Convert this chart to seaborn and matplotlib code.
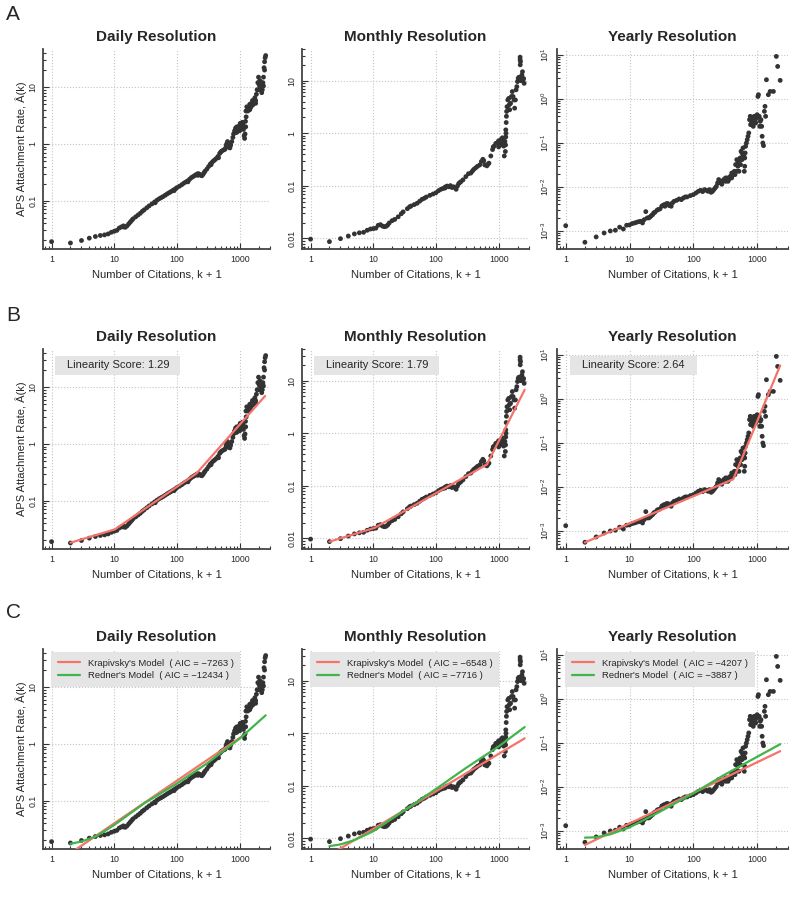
import matplotlib
matplotlib.use("Agg")
import matplotlib.pyplot as plt
import matplotlib.ticker as mticker
from matplotlib.patches import Rectangle
import pandas as pd
import seaborn as sns

# ---- data ---------------------------------------------------------------------
daily_k = [1, 2, 3, 4, 5, 6, 7, 8, 9, 10, 11, 12, 13, 14, 15, 16, 17, 18, 19, 20,
           22, 24, 26, 28, 30, 33, 36, 40, 44, 48, 52, 56, 60, 65, 70, 75, 80, 85, 90, 95,
           100, 110, 120, 130, 140, 150, 160, 170, 180, 190, 200, 210, 220, 230, 240, 250,
           260, 270, 280, 300, 320, 340, 360, 380, 400, 420, 450, 480, 500, 520, 550, 580,
           600, 620, 640, 660, 680, 700, 720, 750, 780, 800, 830, 860, 900, 930, 960, 1000,
           1030, 1060, 1100, 1130, 1150, 1180, 1200, 1220, 1240, 1260, 1300, 1350, 1400,
           1450, 1500, 1550, 1600, 1650, 1700, 1750, 1800, 1850, 1900, 1950, 2000, 2050,
           2100, 2150, 2200, 2250, 2300, 2350, 2400, 2450, 2500, 2550, 2600,
           900, 1000, 1100, 1450, 1600, 1800, 2000, 2100, 2200, 2400, 2500,
           14, 45, 90, 150, 215, 350, 460, 610, 870, 1020, 1250, 1270]
daily_rate = [0.019, 0.018, 0.0199, 0.0219, 0.0234, 0.0244, 0.025, 0.026, 0.0278, 0.029,
              0.030, 0.033, 0.0345, 0.0345, 0.034, 0.036, 0.039, 0.042, 0.045, 0.048,
              0.052, 0.056, 0.060, 0.065, 0.069, 0.075, 0.081, 0.088, 0.095, 0.102, 0.108,
              0.113, 0.118, 0.125, 0.132, 0.138, 0.144, 0.150, 0.156, 0.162,
              0.170, 0.180, 0.192, 0.205, 0.215, 0.225, 0.24, 0.255, 0.265, 0.275, 0.285,
              0.295, 0.30, 0.29, 0.28, 0.275, 0.29, 0.31, 0.33, 0.36, 0.40, 0.44, 0.47,
              0.50, 0.52, 0.55, 0.60, 0.68, 0.72, 0.75, 0.78, 0.80, 0.85, 1.0, 1.1, 1.0,
              0.88, 0.85, 0.95, 1.1, 1.3, 1.5, 1.7, 1.9, 2.0, 1.8, 2.0, 2.1, 1.9, 2.2, 2.0,
              2.2, 1.8, 1.4, 1.25, 1.5, 2.5, 3.8, 4.5, 3.8, 4.2, 5.0, 4.4, 5.2, 5.8, 5.0,
              6.0, 6.5, 5.8, 7.5, 9.0, 12, 15, 11, 13, 9, 10, 8, 9, 12, 15, 22, 28, 33, 36,
              1.6, 1.7, 2.4, 4.0, 4.8, 5.2, 9.0, 10.5, 12.0, 10.5, 20,
              0.036, 0.092, 0.150, 0.215, 0.28, 0.43, 0.57, 0.93, 1.6, 2.3, 2.0, 3.0]

monthly_k = [1, 2, 3, 4, 5, 6, 7, 8, 9, 10, 11, 12, 13, 14, 15, 16, 17, 18, 20, 22, 25,
             28, 30, 35, 40, 45, 50, 55, 60, 70, 80, 90, 100, 110, 120, 130, 140, 150,
             160, 170, 180, 190, 200, 210, 220, 230, 250, 270, 300, 330, 360, 400, 430,
             460, 500, 530, 560, 600, 650, 700, 750, 800, 850, 900, 950, 1000, 1050,
             1100, 1150, 1200, 1230, 1260, 1300, 1330, 1360, 1400, 1450, 1500, 1550,
             1600, 1650, 1700, 1750, 1800, 1850, 1900, 1950, 2000, 2050, 2100, 2150,
             2200, 2230, 2260, 2300, 2350, 2400, 2450, 2500, 2550,
             1280, 1290, 1300, 1310, 1320, 1340, 1000, 1100, 2200, 2210,
             38, 65, 140, 240, 380, 580, 680, 820, 1180, 1480]
monthly_rate = [0.0097, 0.0087, 0.0099, 0.0111, 0.0122, 0.0128, 0.0131, 0.0143, 0.0151,
                0.0154, 0.0157, 0.0178, 0.0183, 0.0172, 0.0167, 0.017, 0.018, 0.0197,
                0.0218, 0.023, 0.0258, 0.0295, 0.032, 0.0368, 0.0413, 0.044, 0.0466,
                0.051, 0.0555, 0.0613, 0.066, 0.070, 0.074, 0.081, 0.086, 0.089, 0.091,
                0.099, 0.096, 0.101, 0.093, 0.096, 0.093, 0.086, 0.099, 0.11, 0.12, 0.13,
                0.15, 0.17, 0.175, 0.205, 0.22, 0.235, 0.25, 0.29, 0.32, 0.25, 0.24, 0.27,
                0.37, 0.49, 0.57, 0.64, 0.66, 0.72, 0.6, 0.77, 0.82, 0.57, 0.37, 0.7,
                1.16, 2.1, 3.2, 4.3, 4.6, 2.8, 3.7, 5.0, 6.2, 5.0, 4.3, 3.0, 4.3, 6.7,
                7.7, 9.6, 11, 11.6, 10.5, 28, 23, 10, 11.6, 12.8, 14.8, 10.3, 11, 8.9,
                0.45, 0.6, 0.85, 1.0, 1.6, 2.6, 0.55, 0.62, 25, 20,
                0.040, 0.058, 0.095, 0.115, 0.19, 0.30, 0.26, 0.55, 0.70, 3.5]

yearly_k = [1, 2, 3, 4, 5, 6, 7, 8, 9, 10, 11, 12, 13, 14, 15, 16, 17, 18, 19, 20, 21,
            22, 23, 24, 25, 27, 28, 30, 32, 33, 35, 36, 38, 40, 42, 45, 47, 50, 55, 60,
            65, 70, 75, 80, 90, 100, 110, 120, 130, 140, 150, 160, 170, 180, 190, 200,
            210, 220, 230, 240, 250, 260, 270, 280, 300, 320, 340, 360, 380, 400, 420,
            440, 460, 480, 500, 520, 540, 560, 580, 600, 620, 630, 640, 650, 660, 680,
            700, 720, 740, 760, 780, 800, 820, 850, 880, 900, 930, 960, 1000, 1030,
            1050, 1080, 1100, 1150, 1180, 1200, 1230, 1260, 1300, 1330, 1360, 1400,
            1500, 1600, 1800, 2000, 2100, 2300,
            250, 280, 320, 350, 400, 450, 480, 500, 520, 550, 580, 600, 640,
            790, 830, 870, 950, 990, 1120]
yearly_rate = [0.00132, 0.000555, 0.000733, 0.00090, 0.00100, 0.00104, 0.00122, 0.00111,
               0.00135, 0.00137, 0.00147, 0.00152, 0.00158, 0.00163, 0.00166, 0.00152,
               0.00181, 0.00275, 0.00198, 0.00198, 0.00208, 0.00223, 0.00235, 0.00257,
               0.00266, 0.00295, 0.00306, 0.00316, 0.00364, 0.00377, 0.00397, 0.00364,
               0.00418, 0.00418, 0.00377, 0.00364, 0.00433, 0.00472, 0.00498, 0.00533,
               0.00515, 0.00562, 0.00593, 0.00593, 0.00635, 0.00668, 0.00729, 0.00796,
               0.00839, 0.00782, 0.00869, 0.00839, 0.00796, 0.00869, 0.00755, 0.00796,
               0.00869, 0.00948, 0.0103, 0.0123, 0.0127, 0.0134, 0.0123, 0.0134, 0.0147,
               0.0134, 0.0160, 0.0147, 0.0174, 0.0207, 0.0190, 0.0226, 0.0321, 0.0416,
               0.0381, 0.0349, 0.0454, 0.0643, 0.0589, 0.0765, 0.0495, 0.0226, 0.0294,
               0.0589, 0.0834, 0.0993, 0.118, 0.141, 0.168, 0.336, 0.400, 0.347, 0.282,
               0.259, 0.336, 0.400, 0.308, 0.366, 0.436, 1.13, 1.24, 0.400, 0.237, 0.336,
               0.237, 0.141, 0.0993, 0.0865, 0.519, 0.673, 0.400, 2.71, 1.24, 1.47, 1.47,
               9.17, 5.43, 2.62,
               0.0147, 0.0115, 0.0160, 0.0134, 0.0160, 0.0190, 0.0226, 0.0294, 0.0226,
               0.0321, 0.0416, 0.0495, 0.0454,
               0.259, 0.308, 0.237, 0.282, 0.366, 0.308]

# piecewise power-law fits (row B)
daily_pw_k, daily_pw_rate = [2, 10.2, 205, 2550], [0.0182, 0.0312, 0.303, 7.0]
monthly_pw_k, monthly_pw_rate = [2, 10.5, 650, 2600], [0.00867, 0.0159, 0.255, 6.7]
yearly_pw_k, yearly_pw_rate = [2, 424, 2297], [0.00055, 0.015, 5.7]
linearity_scores = [1.29, 1.79, 2.64]

# model fits (row C)
daily_krap_k, daily_krap_rate = [2, 1100], [0.0119, 1.37]
monthly_krap_k, monthly_krap_rate = [2, 2600], [0.00485, 0.80]
yearly_krap_k, yearly_krap_rate = [2, 2300], [0.000482, 0.0647]
daily_redner_k = [2, 3, 5, 7, 10, 30, 100, 300, 1000, 2600]
daily_redner_rate = [0.0174, 0.0191, 0.0233, 0.029, 0.0374, 0.0898, 0.201, 0.452, 1.24, 3.19]
monthly_redner_k = [2, 3, 5, 10, 30, 100, 300, 1000, 2600]
monthly_redner_rate = [0.00715, 0.0077, 0.0093, 0.0137, 0.0329, 0.0872, 0.218, 0.561, 1.31]
yearly_redner_k = [2, 3, 5, 10, 30, 100, 300, 1000, 2300]
yearly_redner_rate = [0.000706, 0.00072, 0.00084, 0.00121, 0.00274, 0.00713, 0.0185, 0.0482, 0.0933]
krap_aic = [-7263, -6548, -4207]
redner_aic = [-12434, -7716, -3887]

titles = ["Daily Resolution", "Monthly Resolution", "Yearly Resolution"]

points = [(daily_k, daily_rate), (monthly_k, monthly_rate), (yearly_k, yearly_rate)]
pw_fits = [(daily_pw_k, daily_pw_rate), (monthly_pw_k, monthly_pw_rate), (yearly_pw_k, yearly_pw_rate)]
krap_fits = [(daily_krap_k, daily_krap_rate), (monthly_krap_k, monthly_krap_rate),
             (yearly_krap_k, yearly_krap_rate)]
redner_fits = [(daily_redner_k, daily_redner_rate), (monthly_redner_k, monthly_redner_rate),
               (yearly_redner_k, yearly_redner_rate)]
ylims = [(0.0141, 47), (0.0063, 40), (0.00039, 13.5)]
yticks = [[0.1, 1, 10], [0.01, 0.1, 1, 10], [1e-3, 1e-2, 1e-1, 1, 10]]

RED = "#f4736a"
GREEN = "#3fb54a"
DOTS = "#333333"

# ---- style --------------------------------------------------------------------
sns.set_style("white")
plt.rcParams["font.family"] = ["Liberation Sans", "DejaVu Sans"]
plt.rcParams["mathtext.fontset"] = "custom"
plt.rcParams["mathtext.rm"] = "Liberation Sans"
plt.rcParams["axes.unicode_minus"] = True

fig = plt.figure(figsize=(7.95, 8.99), dpi=100)
H = 899.0
W = 795.0
col_left = [43, 302, 557]
col_width = [227, 227, 231]
row_top = [49, 349, 649]
ax_h = 200


def style_axis(ax, c):
    ax.set_xscale("log")
    ax.set_yscale("log")
    ax.set_xlim(0.73, 3050)
    ax.set_ylim(*ylims[c])
    ax.set_xticks([1, 10, 100, 1000])
    ax.xaxis.set_major_formatter(mticker.FixedFormatter(["1", "10", "100", "1000"]))
    ax.set_yticks(yticks[c])
    if c == 2:
        ax.yaxis.set_major_formatter(mticker.LogFormatterMathtext())
    else:
        ax.yaxis.set_major_formatter(mticker.FuncFormatter(lambda v, p: "%g" % v))
    ax.xaxis.set_minor_locator(mticker.LogLocator(base=10, subs=range(2, 10), numticks=20))
    ax.yaxis.set_minor_locator(mticker.LogLocator(base=10, subs=range(2, 10), numticks=20))
    ax.xaxis.set_minor_formatter(mticker.NullFormatter())
    ax.yaxis.set_minor_formatter(mticker.NullFormatter())
    ax.tick_params(which="both", direction="in", color="#333333", width=0.8,
                   labelsize=6.3, pad=4, bottom=True, left=True, top=False, right=False)
    ax.tick_params(which="major", length=4.5)
    ax.tick_params(which="minor", length=2.5)
    ax.tick_params(axis="y", labelrotation=90)
    for lab in ax.get_yticklabels():
        lab.set_verticalalignment("center")
    ax.grid(True, which="major", linestyle=":", color="#c4c4c4", linewidth=0.8)
    sns.despine(ax=ax)
    for s in ["left", "bottom"]:
        ax.spines[s].set_color("#444444")
        ax.spines[s].set_linewidth(1.3)
    ax.set_title(titles[c], fontsize=11, fontweight="bold", pad=6)
    ax.set_xlabel("Number of Citations, k + 1", fontsize=8, labelpad=4)
    if c == 0:
        ax.set_ylabel("APS Attachment Rate, Â(k)", fontsize=8, labelpad=1)
    else:
        ax.set_ylabel("")


for r in range(3):
    for c in range(3):
        ax = fig.add_axes([col_left[c] / W, 1 - (row_top[r] + ax_h) / H,
                           col_width[c] / W, ax_h / H])
        df = pd.DataFrame({"k": points[c][0], "rate": points[c][1]})
        sns.scatterplot(data=df, x="k", y="rate", ax=ax, s=12, color=DOTS,
                        edgecolor="none", linewidth=0, zorder=2)
        if r == 1:
            sns.lineplot(x=pw_fits[c][0], y=pw_fits[c][1], ax=ax, color=RED, lw=1.6, zorder=3)
            ax.add_patch(Rectangle((0.055, 0.87), 0.55, 0.095, transform=ax.transAxes,
                                   facecolor="#e5e5e5", edgecolor="none", zorder=4))
            ax.text(0.33, 0.918, "Linearity Score: %.2f" % linearity_scores[c],
                    transform=ax.transAxes, ha="center", va="center", fontsize=8, zorder=5)
        if r == 2:
            sns.lineplot(x=krap_fits[c][0], y=krap_fits[c][1], ax=ax, color=RED, lw=1.6,
                         zorder=3, label="Krapivsky's Model  ( AIC = \u2212%d )" % abs(krap_aic[c]))
            sns.lineplot(x=redner_fits[c][0], y=redner_fits[c][1], ax=ax, color=GREEN, lw=1.6,
                         zorder=3, label="Redner's Model  ( AIC = \u2212%d )" % abs(redner_aic[c]))
            leg = ax.legend(loc="upper left", bbox_to_anchor=(0.035, 0.985), borderaxespad=0,
                            fontsize=6.8, frameon=True, fancybox=False, framealpha=1,
                            facecolor="#e5e5e5", edgecolor="none", handlelength=2.4,
                            borderpad=0.7, labelspacing=0.35)
            leg.set_zorder(6)
        style_axis(ax, c)

fig.text(6 / W, 1 - 5 / H, "A", fontsize=15, va="top")
fig.text(6 / W, 1 - 306 / H, "B", fontsize=15, va="top")
fig.text(6 / W, 1 - 603 / H, "C", fontsize=15, va="top")

fig.savefig("out.png", dpi=100)
